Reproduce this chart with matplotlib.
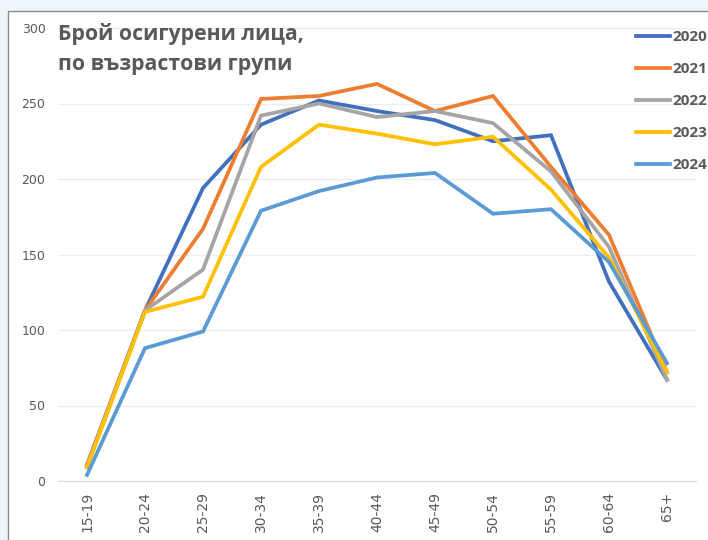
import matplotlib
matplotlib.use("Agg")
import matplotlib.pyplot as plt
from matplotlib.patches import Rectangle

categories = ["15-19", "20-24", "25-29", "30-34", "35-39", "40-44",
              "45-49", "50-54", "55-59", "60-64", "65+"]
years = ["2020", "2021", "2022", "2023", "2024"]
v2020 = [10, 113, 194, 236, 252, 245, 239, 225, 229, 132, 67]
v2021 = [11, 113, 167, 253, 255, 263, 245, 255, 208, 163, 72]
v2022 = [10, 113, 140, 242, 250, 241, 245, 237, 205, 155, 67]
v2023 = [9, 112, 122, 208, 236, 230, 223, 228, 193, 148, 72]
v2024 = [4, 88, 99, 179, 192, 201, 204, 177, 180, 145, 78]
series = [v2020, v2021, v2022, v2023, v2024]
colors = ["#4070BE", "#ED7D31", "#A5A5A5", "#FFC000", "#5B9BD5"]
yticks = [0, 50, 100, 150, 200, 250, 300]

fig = plt.figure(figsize=(7.08, 5.40), dpi=100)
fig.patch.set_facecolor("#eef5fb")
W, H = 708, 540
fig.patches.append(Rectangle((8 / W, -0.01), 1.0, 1 - 11 / H + 0.01,
                             transform=fig.transFigure, facecolor="white",
                             edgecolor="#8a8a8a", linewidth=1.0, zorder=-5))

ax = fig.add_axes([58 / W, (H - 481) / H, 638 / W, (481 - 28) / H])
ax.set_zorder(2)
ax.set_facecolor("none")
x = list(range(len(categories)))
for yr, vals, c in zip(years, series, colors):
    ax.plot(x, vals, color=c, lw=2.7, label=yr, solid_joinstyle="miter")

ax.set_xlim(-0.5, len(categories) - 0.5)
ax.set_ylim(0, 300)
ax.set_yticks(yticks)
ax.set_xticks(x)
ax.set_xticklabels(categories, rotation=90)
ax.grid(axis="y", color="#ededed", lw=1)
ax.set_axisbelow(True)
for s in ["top", "right", "left"]:
    ax.spines[s].set_visible(False)
ax.spines["bottom"].set_color("#d9d9d9")
ax.tick_params(axis="both", length=0, colors="#595959")
ax.tick_params(axis="y", pad=9, labelsize=9)
ax.tick_params(axis="x", pad=8, labelsize=10)

ax.text(0.0, 1.01, "Брой осигурени лица,\nпо възрастови групи",
        transform=ax.transAxes, ha="left", va="top", fontsize=15.3,
        fontweight="bold", color="#595959", family=["Open Sans", "DejaVu Sans"],
        linespacing=1.55)

leg = ax.legend(loc="upper left", bbox_to_anchor=((630 - 58) / 638, 1.009), frameon=False,
                handlelength=2.2, handletextpad=0.15, borderaxespad=0,
                labelspacing=1.18, prop={"family": "Open Sans", "weight": "bold", "size": 11})
for t in leg.get_texts():
    t.set_color("#595959")

fig.savefig("out.png", dpi=100, facecolor=fig.get_facecolor())
